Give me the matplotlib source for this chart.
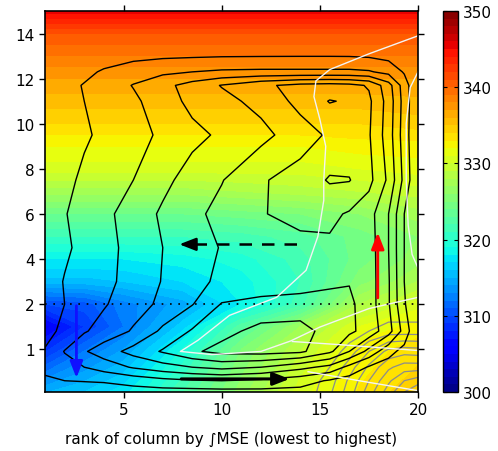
import numpy as np
import matplotlib.pyplot as plt

plt.rcParams['font.family'] = ['DejaVu Sans']
plt.rcParams['font.size'] = 11

# MSE field (K): columns ranked by column-integrated MSE, height in km
rank_mse = [1, 3, 5, 8, 11, 14, 17, 20]
z_mse = [0.05, 1.0, 1.5, 2.0, 3.0, 4.0, 5.0, 6.0, 7.0, 8.0, 9.0, 10.0, 12.0, 14.0, 15.0]
mse = [
    [314.9, 316.0, 317.6, 321.9, 326.5, 330.5, 333.1, 334.8],
    [308.6, 311.8, 314.0, 319.0, 325.0, 328.9, 332.4, 333.5],
    [305.5, 309.0, 312.0, 316.5, 322.5, 327.0, 331.0, 332.5],
    [310.0, 310.5, 312.5, 314.5, 318.0, 321.5, 328.0, 330.5],
    [315.5, 315.5, 316.0, 317.0, 318.5, 321.0, 325.5, 328.0],
    [318.0, 318.0, 318.0, 318.5, 319.5, 321.5, 324.5, 326.5],
    [321.0, 321.0, 321.0, 321.0, 321.5, 322.5, 324.5, 326.0],
    [324.0, 324.0, 324.0, 324.0, 324.5, 325.0, 326.0, 327.5],
    [327.5, 327.5, 327.5, 327.5, 328.0, 328.5, 329.0, 329.5],
    [330.5, 330.5, 330.5, 330.5, 330.5, 330.5, 331.0, 331.5],
    [332.0, 332.0, 332.0, 332.0, 332.0, 332.0, 332.5, 332.5],
    [334.0, 334.0, 334.0, 334.0, 334.0, 334.0, 334.0, 334.5],
    [337.0, 337.0, 337.0, 337.0, 337.0, 337.0, 337.0, 337.0],
    [341.0, 341.0, 341.0, 341.0, 341.0, 341.0, 341.0, 341.0],
    [345.5, 345.5, 345.5, 345.5, 345.5, 345.5, 345.5, 345.5],
]

# overturning streamfunction (arbitrary units)
rank_psi = [1, 2, 3, 4, 5.5, 7, 8.5, 10, 12, 14, 15.5, 16.5, 17.5, 18.5, 19.3, 20]
z_psi = [0.05, 0.3, 0.6, 0.95, 1.4, 2.0, 3.0, 4.5, 6.0, 7.5, 9.5, 11.0, 11.7, 12.3, 13.0, 14.0, 15.0]
psi = [
    [0.3, 0.4, 0.45, 0.5, 0.55, 0.6, 0.6, 0.65, 0.7, 0.7, 0.6, 0.5, 0.35, 0.2, 0.1, 0.0],
    [0.9, 1.0, 1.05, 1.1, 1.4, 1.7, 1.9, 2.0, 1.8, 1.4, 0.9, 0.6, 0.4, 0.25, 0.1, 0.0],
    [1.15, 1.6, 2.0, 2.45, 3.1, 3.6, 4.0, 4.3, 4.0, 3.3, 2.7, 1.7, 0.9, 0.6, 0.3, 0.0],
    [1.05, 2.05, 2.9, 3.5, 4.35, 5.1, 5.85, 6.3, 6.4, 6.2, 5.2, 4.0, 2.7, 1.3, 0.7, 0.0],
    [0.8, 1.15, 1.9, 2.4, 3.1, 4.2, 5.1, 5.7, 6.3, 6.4, 5.6, 5.2, 4.6, 3.4, 1.6, 0.0],
    [0.6, 1.0, 1.45, 1.9, 2.6, 3.2, 3.95, 5.05, 5.3, 5.35, 5.3, 5.2, 4.5, 3.1, 1.1, 0.0],
    [0.55, 1.05, 1.35, 1.7, 2.4, 3.05, 3.7, 4.2, 4.4, 4.6, 4.85, 4.95, 4.5, 3.1, 1.0, 0.0],
    [0.5, 0.85, 1.25, 1.65, 2.35, 3.0, 3.6, 4.05, 4.5, 4.75, 4.85, 4.85, 4.5, 3.0, 1.0, 0.0],
    [0.5, 0.95, 1.35, 1.75, 2.45, 3.15, 3.75, 4.3, 4.95, 5.25, 5.2, 4.9, 4.4, 3.0, 1.0, 0.0],
    [0.45, 0.8, 1.15, 1.5, 2.0, 2.75, 3.4, 3.95, 4.9, 5.4, 6.1, 6.05, 5.3, 3.8, 1.7, 0.0],
    [0.3, 0.6, 0.9, 1.15, 1.6, 2.2, 2.75, 3.15, 3.7, 4.55, 5.15, 5.3, 5.1, 3.5, 1.5, 0.0],
    [0.35, 0.7, 1.0, 1.3, 1.8, 2.55, 3.25, 3.7, 4.3, 5.3, 6.05, 5.9, 5.2, 3.6, 1.6, 0.0],
    [0.35, 0.75, 1.05, 1.4, 2.05, 2.7, 3.4, 4.05, 4.8, 5.3, 5.4, 5.3, 4.9, 3.4, 1.5, 0.0],
    [0.3, 0.55, 0.8, 1.1, 1.5, 1.8, 2.0, 2.15, 2.2, 2.2, 2.2, 2.2, 2.1, 1.7, 0.9, 0.0],
    [0.15, 0.3, 0.45, 0.6, 0.75, 0.85, 0.9, 0.95, 0.97, 0.98, 0.98, 0.97, 0.9, 0.7, 0.4, 0.0],
    [0.05, 0.1, 0.15, 0.2, 0.25, 0.3, 0.3, 0.3, 0.3, 0.3, 0.3, 0.3, 0.3, 0.25, 0.15, 0.0],
    [0.0] * 16,
]
psi_levels = [1, 2, 3, 4, 5, 6]

# second field, drawn in grey near the lower right corner
rank_g = [14, 15.5, 16.5, 17.5, 18.5, 19.3, 20]
z_g = [0.05, 0.3, 0.6, 0.95, 1.4, 2.0]
gfield = [
    [0.0, 1.8, 3.5, 5.5, 7.5, 9.0, 10.0],
    [0.0, 1.5, 3.2, 5.0, 6.8, 8.0, 8.5],
    [0.0, 1.0, 2.5, 4.2, 5.8, 6.5, 6.5],
    [0.0, 0.3, 1.5, 3.0, 4.3, 4.6, 4.5],
    [0.0, 0.0, 0.3, 1.0, 1.5, 1.5, 1.5],
    [0.0, 0.0, 0.0, 0.0, 0.0, 0.0, 0.0],
]
g_levels = [1, 2, 3, 4, 5, 6, 7, 8, 9]

# white curves (rank, height km)
white_1_x = [20, 17.5, 15.5, 14.8, 14.7, 15.0, 15.3, 15.2, 15.2, 14.9, 14.3, 12.8, 10.4, 8.8, 7.9,
             9.5, 12.0, 13.5, 15.0, 17.5, 20]
white_1_z = [13.9, 13.1, 12.4, 11.9, 11.2, 10.2, 9.0, 7.5, 6.6, 5.0, 3.5, 2.3, 1.75, 1.2, 0.95,
             0.88, 0.95, 1.18, 1.49, 1.9, 2.3]
white_2_x = [20, 19.6, 19.4, 19.4, 19.5, 19.7, 20]
white_2_z = [12.3, 11.6, 10.0, 7.5, 5.5, 4.2, 3.6]
white_3_x = [13.6, 16.0, 20]
white_3_z = [1.17, 1.1, 0.97]
white_4_x = [14.4, 17.0, 20]
white_4_z = [0.5, 0.3, 0.08]


def fwd(z):
    z = np.asarray(z, float)
    return np.where(z <= 2, z, 2 + (z - 2) / 2)


def inv(s):
    s = np.asarray(s, float)
    return np.where(s <= 2, s, 2 + (s - 2) * 2)


fig = plt.figure(figsize=(4.98, 4.52), dpi=100)
ax = fig.add_axes([45 / 498, 59 / 452, 373 / 498, 381 / 452])
cax = fig.add_axes([443 / 498, 59 / 452, 15 / 498, 381 / 452])

ax.set_yscale('function', functions=(fwd, inv))

cf = ax.contourf(rank_mse, z_mse, mse, levels=np.arange(300, 351, 1), cmap='jet', vmin=300, vmax=350)
ax.contour(rank_g, z_g, gfield, levels=g_levels, colors='#8c8c8c', linewidths=0.9)
ax.contour(rank_psi, z_psi, psi, levels=psi_levels, colors='k', linewidths=1.0)

for wx, wz in [(white_1_x, white_1_z), (white_2_x, white_2_z), (white_3_x, white_3_z), (white_4_x, white_4_z)]:
    ax.plot(wx, wz, color='#f4f4f4', lw=1.0)

ax.axhline(2, color='k', lw=1.2, ls=(0, (1, 4)))

# arrows
ax.annotate('', xy=(13.6, 0.34), xytext=(7.8, 0.34),
            arrowprops=dict(arrowstyle='-|>,head_length=0.9,head_width=0.35', color='k', lw=2.2))
ax.plot([8.6, 14.2], [4.65, 4.65], color='k', lw=1.8, ls=(0, (5, 4)))
ax.annotate('', xy=(7.7, 4.65), xytext=(8.8, 4.65),
            arrowprops=dict(arrowstyle='-|>,head_length=0.9,head_width=0.35', color='k', lw=1.8))
ax.annotate('', xy=(17.95, 5.3), xytext=(17.95, 2.15),
            arrowprops=dict(arrowstyle='-|>,head_length=0.9,head_width=0.35', color='#ff0000', lw=2.0))
ax.annotate('', xy=(2.6, 0.3), xytext=(2.6, 2.05),
            arrowprops=dict(arrowstyle='-|>,head_length=0.9,head_width=0.35', color='#1010ff', lw=2.0))

ax.set_xlim(1, 20)
ax.set_ylim(0.05, 15)
ax.set_xticks([5, 10, 15, 20])
ax.set_yticks([1, 2, 4, 6, 8, 10, 12, 14])
ax.set_yticklabels(['1', '2', '4', '6', '8', '10', '12', '14'])
ax.minorticks_off()
ax.tick_params(direction='out', top=True, right=True, length=4, width=1, labelsize=11)
for sp in ax.spines.values():
    sp.set_linewidth(1.2)
ax.set_xlabel('rank of column by \u222bMSE (lowest to highest)', fontsize=11, labelpad=10)

cb = fig.colorbar(cf, cax=cax, ticks=range(300, 351, 10))
cb.ax.tick_params(direction='in', length=3, labelsize=11, left=True, right=True)
cb.outline.set_linewidth(1.0)

fig.savefig('out.png', dpi=100)
